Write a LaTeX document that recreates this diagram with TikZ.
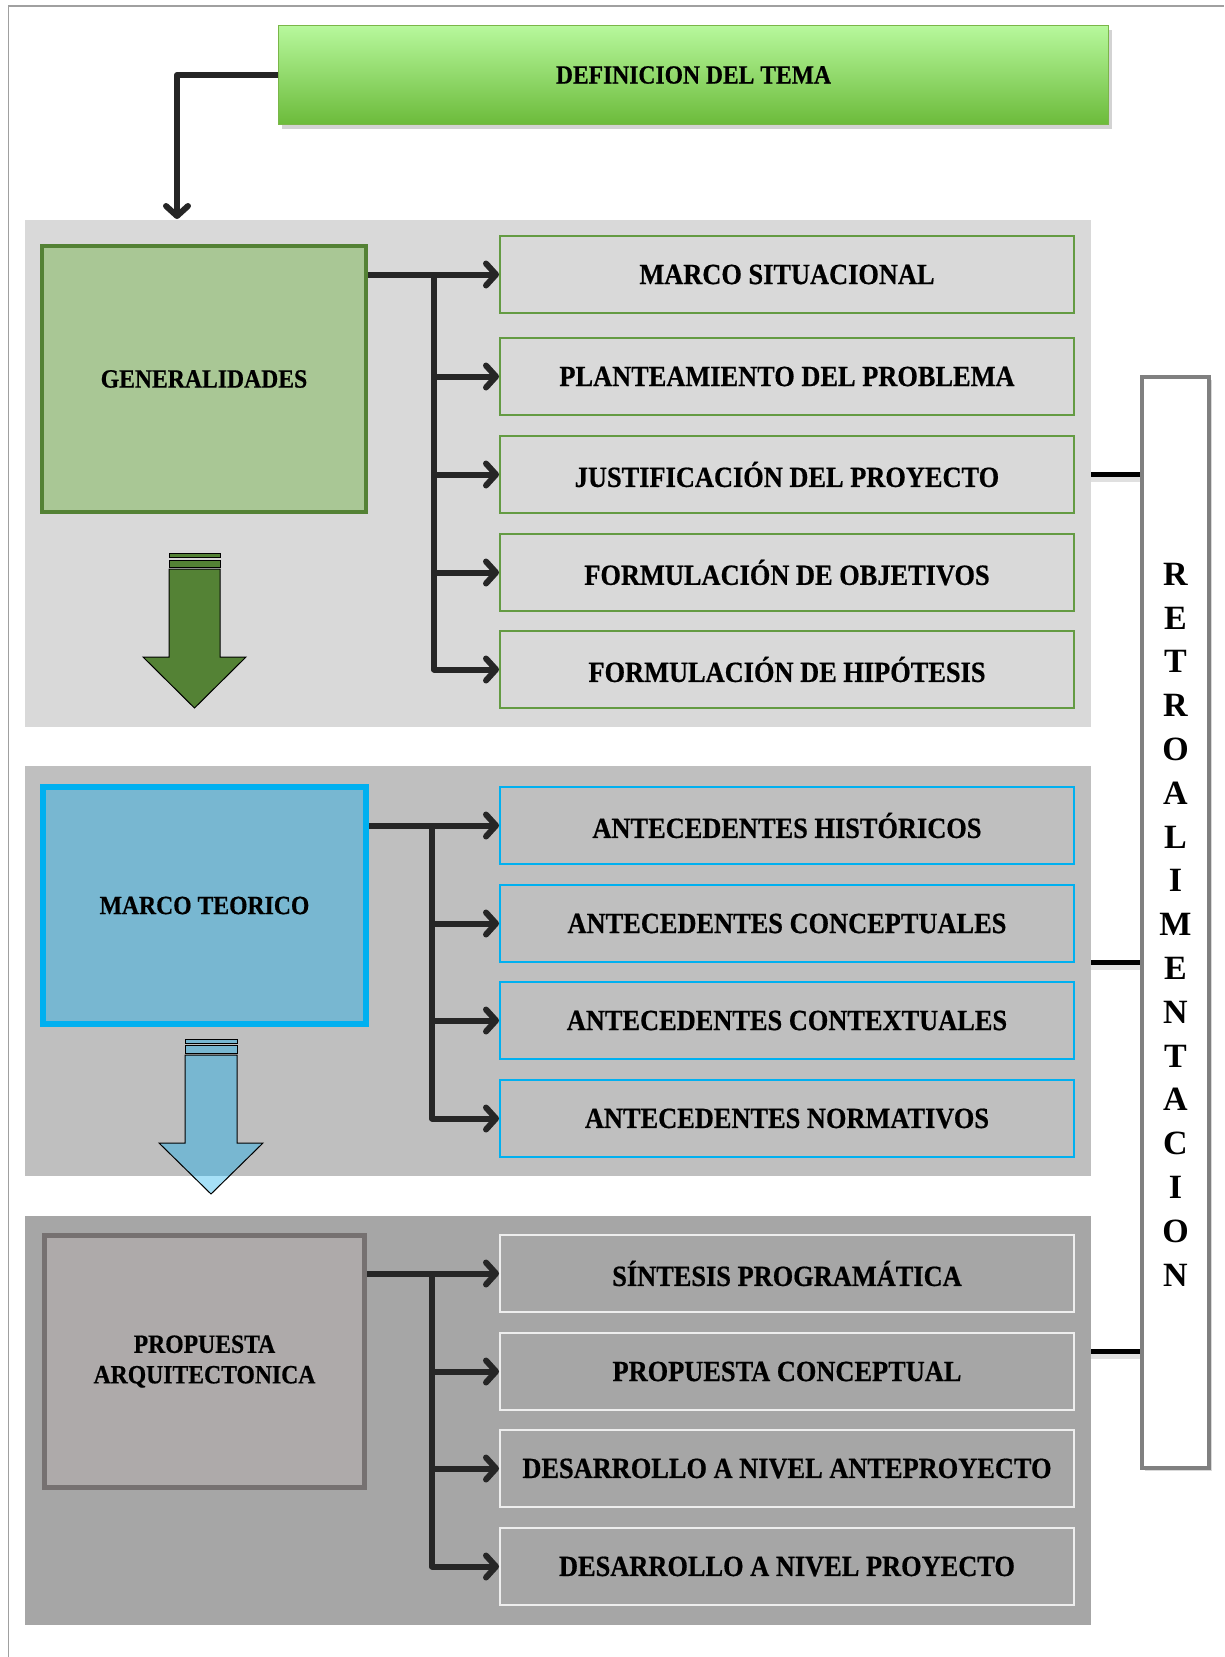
\documentclass[tikz,border=0pt]{standalone}
\usepackage{fontspec}
\setmainfont{Liberation Serif}
\newfontfamily\narrowserif{Liberation Serif}[FakeStretch=0.9, FakeBold=0.6]
\usetikzlibrary{arrows.meta,shadows,calc}
\definecolor{bandA}{HTML}{D9D9D9}
\definecolor{bandB}{HTML}{BFBFBF}
\definecolor{bandC}{HTML}{A6A6A6}
\definecolor{genfill}{HTML}{A9C795}
\definecolor{genline}{HTML}{548235}
\definecolor{chgreen}{HTML}{649B43}
\definecolor{marfill}{HTML}{78B7D1}
\definecolor{marlight}{HTML}{A6E0F7}
\definecolor{marline}{HTML}{00B0F0}
\definecolor{profill}{HTML}{AEAAAA}
\definecolor{proline}{HTML}{767171}
\definecolor{chwhite}{HTML}{EEEEEE}
\definecolor{defTop}{HTML}{B7F89D}
\definecolor{defBot}{HTML}{6CBB3A}
\definecolor{defLine}{HTML}{7AB648}
\definecolor{connc}{HTML}{262626}
\definecolor{framec}{HTML}{A0A0A0}
\definecolor{retroline}{HTML}{808080}
\begin{document}
\begin{tikzpicture}[x=1pt,y=-1pt,
  conn/.style={line width=6pt, draw=connc, line join=round},
  arr/.style={conn, -{Straight Barb[length=10pt,width=22pt,round]}},
  band/.style={anchor=north west, inner sep=0pt, outer sep=0pt, minimum width=1066pt},
  parent/.style={anchor=north west, align=center, inner sep=0pt,
    font=\narrowserif\bfseries\fontsize{26.3}{30.5}\selectfont},
  child/.style={anchor=north west, draw, line width=2pt, minimum width=574pt,
    minimum height=77pt, inner sep=0pt, font=\narrowserif\bfseries\fontsize{29.3}{30}\selectfont},
  blockarrow/.style={draw=black, line width=1pt, line join=miter},
  fb/.style={line width=5pt, draw=black, line cap=butt}
]
\useasboundingbox (0,0) rectangle (1224,1657);
% page frame
\draw[framec, line width=1.5pt] (8.5,1657) -- (8.5,6) -- (1224,6);

% bands
\node[band, fill=bandA, minimum height=507pt] (band1) at (25,220) {};
\node[band, fill=bandB, minimum height=410pt] (band2) at (25,766) {};
\node[band, fill=bandC, minimum height=409pt] (band3) at (25,1216) {};

% title
\node[anchor=north west, minimum width=830pt, minimum height=99pt, inner sep=0pt,
  top color=defTop, bottom color=defBot, draw=defLine, line width=1pt,
  drop shadow={shadow xshift=3pt, shadow yshift=-4pt, opacity=0.35},
  font=\narrowserif\bfseries\fontsize{26.2}{28}\selectfont] (def) at (278,25) {DEFINICION DEL TEMA};
\coordinate (dd) at (177,219);
\draw[arr] (def.west) -| (dd);

% parents
\node[parent, draw=genline, fill=genfill, line width=4pt, minimum width=324pt,
  minimum height=266pt] (gen) at (40,244) {GENERALIDADES};
\node[parent, draw=marline, fill=marfill, line width=6pt, minimum width=323pt,
  minimum height=237pt] (mar) at (40,784) {MARCO TEORICO};
\node[parent, draw=proline, fill=profill, line width=5pt, minimum width=320pt,
  minimum height=252pt] (pro) at (42,1233) {PROPUESTA\\ARQUITECTONICA};

% children section 1
\node[child, draw=chgreen] (s1a) at (499,235) {MARCO SITUACIONAL};
\node[child, draw=chgreen] (s1b) at (499,337) {PLANTEAMIENTO DEL PROBLEMA};
\node[child, draw=chgreen] (s1c) at (499,435) {JUSTIFICACIÓN DEL PROYECTO};
\node[child, draw=chgreen] (s1d) at (499,533) {FORMULACIÓN DE OBJETIVOS};
\node[child, draw=chgreen] (s1e) at (499,630) {FORMULACIÓN DE HIPÓTESIS};
% children section 2
\node[child, draw=marline] (s2a) at (499,786) {ANTECEDENTES HISTÓRICOS};
\node[child, draw=marline] (s2b) at (499,884) {ANTECEDENTES CONCEPTUALES};
\node[child, draw=marline] (s2c) at (499,981) {ANTECEDENTES CONTEXTUALES};
\node[child, draw=marline] (s2d) at (499,1079) {ANTECEDENTES NORMATIVOS};
% children section 3
\node[child, draw=chwhite] (s3a) at (499,1234) {SÍNTESIS PROGRAMÁTICA};
\node[child, draw=chwhite] (s3b) at (499,1332) {PROPUESTA CONCEPTUAL};
\node[child, draw=chwhite] (s3c) at (499,1429) {DESARROLLO A NIVEL ANTEPROYECTO};
\node[child, draw=chwhite] (s3d) at (499,1527) {DESARROLLO A NIVEL PROYECTO};

% connectors section 1
\coordinate (t1) at (434,0);
\draw[arr] (s1a.west -| gen.east) -- (s1a.west);
\draw[arr] (t1 |- s1a.west) -- (t1 |- s1e.west) -- (s1e.west);
\draw[arr] (t1 |- s1b.west) -- (s1b.west);
\draw[arr] (t1 |- s1c.west) -- (s1c.west);
\draw[arr] (t1 |- s1d.west) -- (s1d.west);
% connectors section 2
\coordinate (t2) at (432,0);
\draw[arr] (s2a.west -| mar.east) -- (s2a.west);
\draw[arr] (t2 |- s2a.west) -- (t2 |- s2d.west) -- (s2d.west);
\draw[arr] (t2 |- s2b.west) -- (s2b.west);
\draw[arr] (t2 |- s2c.west) -- (s2c.west);
% connectors section 3
\coordinate (t3) at (432,0);
\draw[arr] (s3a.west -| pro.east) -- (s3a.west);
\draw[arr] (t3 |- s3a.west) -- (t3 |- s3d.west) -- (s3d.west);
\draw[arr] (t3 |- s3b.west) -- (s3b.west);
\draw[arr] (t3 |- s3c.west) -- (s3c.west);

% green block arrow
\filldraw[fill=genline, blockarrow] (169,553) rectangle (220,557);
\filldraw[fill=genline, blockarrow] (169,560) rectangle (220,567);
\filldraw[fill=genline, blockarrow] (169,569) -- (220,569) -- (220,657) -- (246,657)
  -- (194.5,708) -- (143,657) -- (169,657) -- cycle;

% blue block arrow
\filldraw[fill=marfill, blockarrow] (185,1039) rectangle (237,1043);
\filldraw[fill=marfill, blockarrow] (185,1045) rectangle (237,1053);
\fill[marfill] (185,1055) -- (237,1055) -- (237,1143) -- (263,1143)
  -- (211,1194) -- (159,1143) -- (185,1143) -- cycle;
\begin{scope}
  \clip (0,1176) rectangle (1224,1657);
  \fill[marlight] (185,1055) -- (237,1055) -- (237,1143) -- (263,1143)
    -- (211,1194) -- (159,1143) -- (185,1143) -- cycle;
\end{scope}
\draw[blockarrow] (185,1055) -- (237,1055) -- (237,1143) -- (263,1143)
  -- (211,1194) -- (159,1143) -- (185,1143) -- cycle;

% retroalimentacion
\node[anchor=north west, draw=retroline, fill=white, line width=4pt, inner sep=0pt,
  minimum width=67pt, minimum height=1091pt,
  drop shadow={shadow xshift=3pt, shadow yshift=-3pt, opacity=0.3}] (retro) at (1140,375) {};
\node[align=center, inner sep=0pt, font=\bfseries\fontsize{34}{43.8}\selectfont]
  (rtxt) at (1175.5,924.5) {R\\E\\T\\R\\O\\A\\L\\I\\M\\E\\N\\T\\A\\C\\I\\O\\N};
\coordinate (r1) at (1091,474);
\coordinate (r2) at (1091,962);
\coordinate (r3) at (1091,1351);
\foreach \r in {r1,r2,r3}{
  \draw[line width=5pt, black!20, opacity=0.6] ($(\r)+(0,5)$) -- ($(\r -| retro.west)+(0,5)$);
  \draw[fb] (\r) -- (\r -| retro.west);
}
\end{tikzpicture}
\end{document}
